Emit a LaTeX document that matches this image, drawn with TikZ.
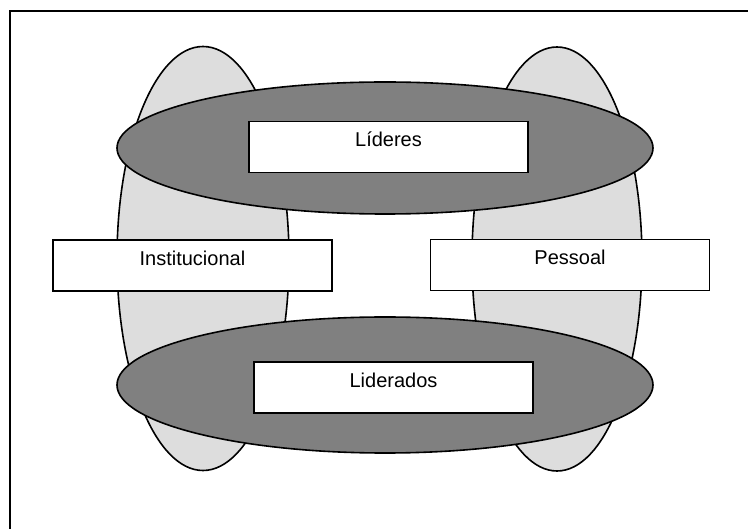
\documentclass[tikz,border=0pt]{standalone}
\usepackage{fontspec}
\setmainfont{Liberation Sans}
\usetikzlibrary{shapes.geometric}
\definecolor{lightg}{HTML}{DDDDDD}
\definecolor{darkg}{HTML}{808080}
\begin{document}
\begin{tikzpicture}[x=1pt,y=-1pt,
  lightell/.style={draw=black,line width=1.6pt,fill=lightg},
  darkell/.style={draw=black,line width=1.6pt,fill=darkg},
  textbox/.style={draw=black,line width=1.8pt,fill=white,rectangle,
    minimum width=279pt,inner xsep=0pt,inner ysep=0pt,
    text height=25.5pt,text depth=25.5pt,font=\fontsize{20}{24}\selectfont}]
\useasboundingbox (0,0) rectangle (748,529);
% frame
\coordinate (fbl) at (10,529);
\coordinate (ftl) at (10,11);
\coordinate (ftr) at (748,11);
\draw[line width=2.2pt] (fbl) -- (ftl) -- (ftr);
% light ellipses
\draw[lightell] (203,258.5) ellipse [x radius=86, y radius=212];
\draw[lightell] (557,259) ellipse [x radius=85, y radius=212];
% dark ellipses
\draw[darkell] (385,148) ellipse [x radius=268, y radius=66];
\draw[darkell] (385,385) ellipse [x radius=268, y radius=68];
% boxes
\node[textbox] (lid) at (388.5,147) {Líderes};
\node[textbox] (ldo) at (393.5,387.5) {Liderados};
\node[textbox] (ins) at (192.4,265.3) {Institucional};
\node[textbox] (pes) at (570,265) {Pessoal};
\end{tikzpicture}
\end{document}
